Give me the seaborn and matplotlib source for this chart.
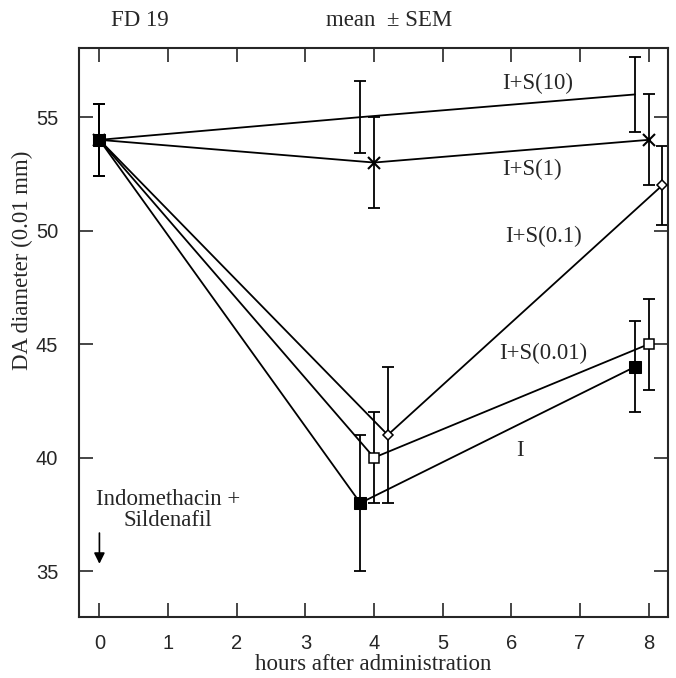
import matplotlib
matplotlib.use("Agg")
import matplotlib.pyplot as plt
import seaborn as sns
import pandas as pd

# ---- data ----
groups = ["I+S(10)", "I+S(1)", "I+S(0.1)", "I+S(0.01)", "I"]
hours = {
    "I+S(10)":   [0, 3.8, 7.8],
    "I+S(1)":    [0, 4.0, 8.0],
    "I+S(0.1)":  [0, 4.2, 8.2],
    "I+S(0.01)": [0, 4.0, 8.0],
    "I":         [0, 3.8, 7.8],
}
means = {
    "I+S(10)":   [54, 55.0, 56.0],
    "I+S(1)":    [54, 53.0, 54.0],
    "I+S(0.1)":  [54, 41.0, 52.0],
    "I+S(0.01)": [54, 40.0, 45.0],
    "I":         [54, 38.0, 44.0],
}
sems = {
    "I+S(10)":   [1.6, 1.6, 1.65],
    "I+S(1)":    [1.6, 2.0, 2.0],
    "I+S(0.1)":  [1.6, 3.0, 1.75],
    "I+S(0.01)": [1.6, 2.0, 2.0],
    "I":         [1.6, 3.0, 2.0],
}
x_ticks = [0, 1, 2, 3, 4, 5, 6, 7, 8]
y_ticks = [35, 40, 45, 50, 55]

rows = []
for g in groups:
    for h, m, s in zip(hours[g], means[g], sems[g]):
        rows.append({"group": g, "hour": h, "mean": m, "sem": s})
df = pd.DataFrame(rows)

# ---- styling ----
sns.set_style("ticks")
plt.rcParams["font.family"] = ["Liberation Serif", "DejaVu Serif"]
FS = 16.5

marker_styles = {
    "I+S(10)":   dict(marker=None),
    "I+S(1)":    dict(marker="x", markersize=8, markeredgewidth=1.5, markeredgecolor="black"),
    "I+S(0.1)":  dict(marker="D", markersize=5.5, markerfacecolor="white", markeredgecolor="black", markeredgewidth=1.1),
    "I+S(0.01)": dict(marker="s", markersize=7.5, markerfacecolor="white", markeredgecolor="black", markeredgewidth=1.1),
    "I":         dict(marker="s", markersize=9, markerfacecolor="black", markeredgecolor="black"),
}

fig = plt.figure(figsize=(6.76, 6.78), dpi=100)
ax = fig.add_axes([0.117, 0.09, 0.871, 0.839])

for i, g in enumerate(groups):
    sub = df[df["group"] == g]
    ax.errorbar(sub["hour"], sub["mean"], yerr=sub["sem"], fmt="none",
                ecolor="black", elinewidth=1.3, capsize=4, capthick=1.3, zorder=2)
    sns.lineplot(data=sub, x="hour", y="mean", ax=ax, color="black", lw=1.3,
                 errorbar=None, zorder=3 + i, **marker_styles[g])

ax.set_xlim(-0.296, 8.28)
ax.set_ylim(32.98, 58.04)
ax.set_xticks(x_ticks)
ax.set_yticks(y_ticks)
ax.tick_params(direction="in", length=10, width=1.2, top=True, right=True,
               labelsize=14.5)
ax.tick_params(axis="x", pad=12)
ax.tick_params(axis="y", pad=15)
for lab in ax.get_xticklabels() + ax.get_yticklabels():
    lab.set_fontfamily("Liberation Sans")
for sp in ax.spines.values():
    sp.set_visible(True)
    sp.set_linewidth(1.5)

ax.set_xlabel("hours after administration", fontsize=FS, labelpad=1)
ax.set_ylabel("DA diameter (0.01 mm)", fontsize=FS)
ax.yaxis.set_label_coords(-0.078, 0.627)

# series labels
label_pos = {
    "I+S(10)":   (6.39, 56.5),
    "I+S(1)":    (6.30, 52.7),
    "I+S(0.1)":  (6.47, 49.75),
    "I+S(0.01)": (6.46, 44.6),
    "I":         (6.12, 40.3),
}
for g, (x, y) in label_pos.items():
    ax.text(x, y, g, ha="center", va="center", fontsize=FS)

ax.text(1.0, 37.7, "Indomethacin +\nSildenafil", ha="center", va="center",
        fontsize=FS, linespacing=1.0)
ax.annotate("", xy=(0, 35.2), xytext=(0, 36.8),
            arrowprops=dict(arrowstyle="-|>", color="black", lw=1.2,
                            mutation_scale=16))

fig.text(140 / 676, 1 - 20 / 678, "FD 19", ha="center", va="center", fontsize=FS)
fig.text(389 / 676, 1 - 20 / 678, "mean  \u00b1 SEM", ha="center", va="center", fontsize=FS)

fig.savefig("out.png", dpi=100)
